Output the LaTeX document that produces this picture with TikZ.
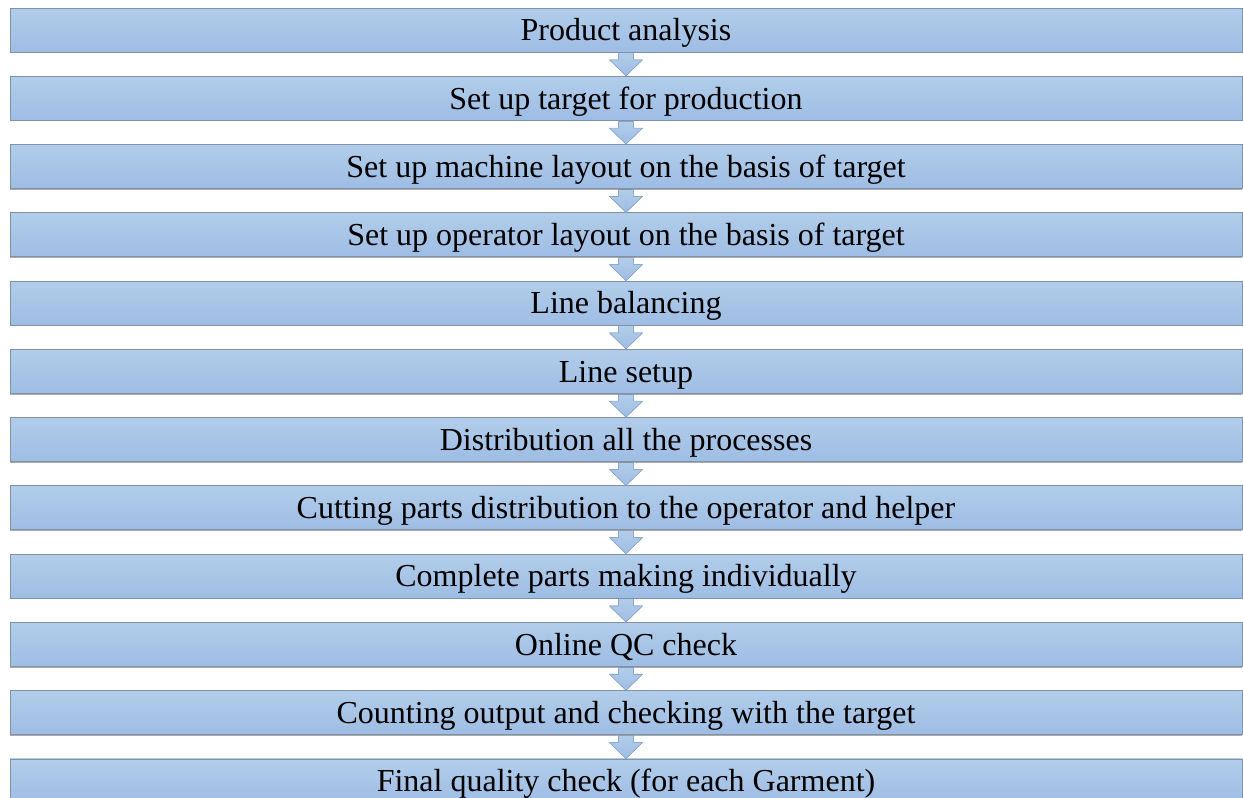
\documentclass[tikz,border=0pt]{standalone}
\usepackage{fontspec}
\setmainfont{Liberation Serif}
\usetikzlibrary{calc,shadows}
\definecolor{boxtop}{RGB}{178,205,234}
\definecolor{boxbot}{RGB}{158,189,228}
\definecolor{boxedge}{RGB}{128,146,170}
\definecolor{arrowedge}{RGB}{140,168,204}
\tikzset{
  x=1pt, y=-1pt,
  stepbox/.style={rectangle, minimum width=1232pt, minimum height=44pt,
    inner sep=0pt, text height=21.5pt, text depth=0pt,
    top color=boxtop, bottom color=boxbot,
    draw=boxedge, line width=0.9pt,
    drop shadow={shadow xshift=0pt, shadow yshift=-1.2pt, fill=black!55, opacity=0.6},
    font=\fontsize{32}{32}\selectfont, text=black},
  flowarrow/.style={top color=boxtop, bottom color=boxbot, draw=arrowedge, line width=0.6pt}
}
\begin{document}
\begin{tikzpicture}
\useasboundingbox (0,0) rectangle (1243,798);
\foreach \t [count=\i from 0] in {
  Product analysis,
  Set up target for production,
  Set up machine layout on the basis of target,
  Set up operator layout on the basis of target,
  Line balancing,
  Line setup,
  Distribution all the processes,
  Cutting parts distribution to the operator and helper,
  Complete parts making individually,
  Online QC check,
  Counting output and checking with the target,
  Final quality check (for each Garment)}
{
  \node[stepbox] (b\i) at (626, {30 + 68.27*\i}) {\t};
}
% block arrows between consecutive steps
\foreach \i [evaluate=\i as \j using int(\i+1)] in {0,...,10} {
  \filldraw[flowarrow]
    ($(b\i.south)+(-7.5,0.6)$) -- ($(b\j.north)+(-7.5,-16)$)
    -- ($(b\j.north)+(-16.5,-16)$) -- (b\j.north)
    -- ($(b\j.north)+(16.5,-16)$) -- ($(b\j.north)+(7.5,-16)$)
    -- ($(b\i.south)+(7.5,0.6)$);
}
\end{tikzpicture}
\end{document}
